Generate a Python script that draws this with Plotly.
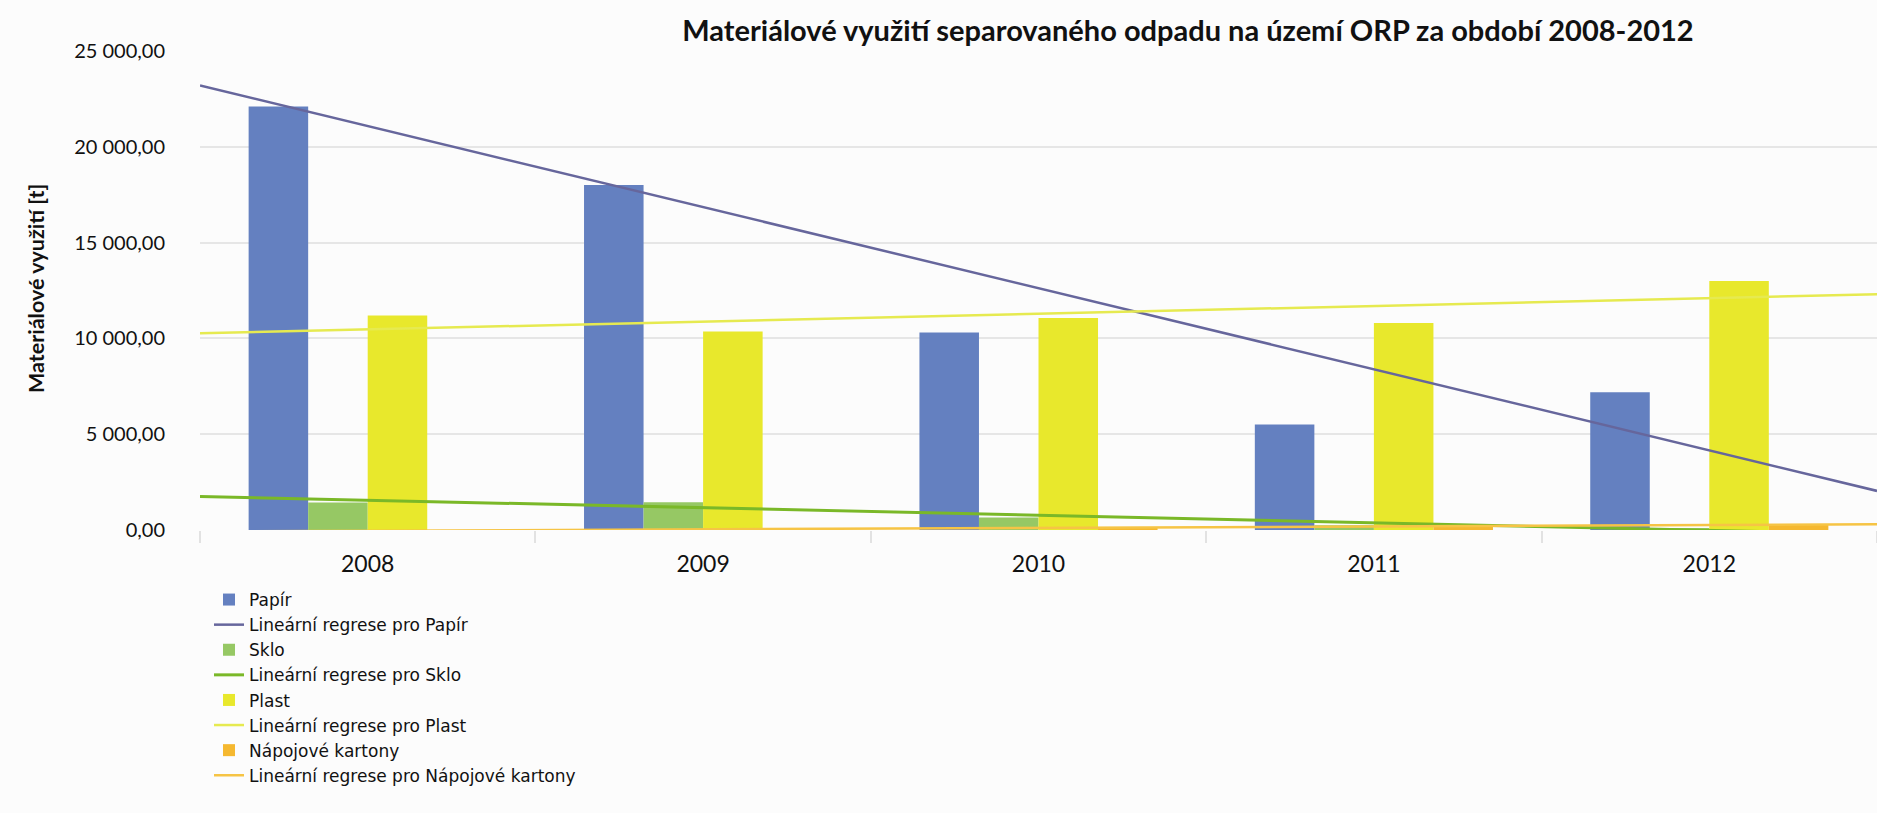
import numpy as np
import plotly.graph_objects as go

# Roky a hodnoty materiálového využití [t]
years = ["2008", "2009", "2010", "2011", "2012"]
papir = [22100, 18000, 10310, 5500, 7190]
sklo = [1430, 1445, 655, 250, 60]
plast = [11190, 10360, 11060, 10810, 13000]
kartony = [0, 10, 70, 190, 280]

series = [
    ("Papír", papir, "#6480c0", "#66669c", 2.5),
    ("Sklo", sklo, "#96c864", "#7ab828", 3),
    ("Plast", plast, "#e8e82c", "#e6ea50", 2.5),
    ("Nápojové kartony", kartony, "#f5b830", "#f6c445", 2.5),
]

FONT = "Lato"
fig = go.Figure()

idx = np.arange(len(years))
x_line = np.array([-0.5, len(years) - 0.5])

for name, vals, bar_col, line_col, lw in series:
    fig.add_trace(go.Bar(
        x=years, y=vals, name=name, marker_color=bar_col,
        marker_line_width=0,
    ))
    # lineární regrese přes indexy let
    k, q = np.polyfit(idx, np.array(vals, dtype=float), 1)
    fig.add_trace(go.Scatter(
        x=x_line, y=k * x_line + q, mode="lines", xaxis="x2",
        name=f"Lineární regrese pro {name}",
        line=dict(color=line_col, width=lw),
    ))

fig.update_layout(
    width=1877, height=813,
    margin=dict(l=200, r=0, t=51, b=283),
    paper_bgcolor="#fcfcfc", plot_bgcolor="#fcfcfc",
    separators=", ",
    barmode="group", bargap=0.29, bargroupgap=0,
    font=dict(family=FONT, color="#111111"),
    title=dict(
        text="<b>Materiálové využití separovaného odpadu na území ORP za období 2008-2012</b>",
        x=1188 / 1877, xanchor="center", xref="container",
        y=1 - 31 / 813, yanchor="middle",
        font=dict(family=FONT, size=29, color="#111111"),
    ),
    xaxis=dict(
        type="category", range=[-0.5, 4.5], tickson="boundaries",
        ticks="outside", ticklen=12, tickcolor="#e2e2e2", tickwidth=1.5,
        showgrid=False, showline=False, ticklabelstandoff=18,
        tickfont=dict(family=FONT, size=23, color="#111111"),
    ),
    xaxis2=dict(
        overlaying="x", range=[-0.5, 4.5], visible=False,
    ),
    yaxis=dict(
        range=[0, 25000], tickvals=[0, 5000, 10000, 15000, 20000, 25000],
        tickformat=",.2f", showgrid=True, gridcolor="#e6e6e6", gridwidth=1.5,
        zeroline=False, showline=False, ticks="", ticklabelstandoff=34,
        tickfont=dict(family=FONT, size=20, color="#111111"),
    ),
    legend=dict(
        orientation="v", x=(209 - 200) / 1677, xanchor="left",
        y=(530 - 582) / 479, yanchor="top",
        font=dict(family="DejaVu Sans", size=17, color="#111111"),
        bgcolor="rgba(0,0,0,0)", tracegroupgap=0,
    ),
    annotations=[dict(
        text="<b>Materiálové využití [t]</b>", textangle=-90,
        xref="paper", yref="paper", x=(36 - 200) / 1677, y=(530 - 289) / 479,
        xanchor="center", yanchor="middle", showarrow=False,
        font=dict(family=FONT, size=21.5, color="#111111"),
    )],
)

fig.write_html("out.html")
